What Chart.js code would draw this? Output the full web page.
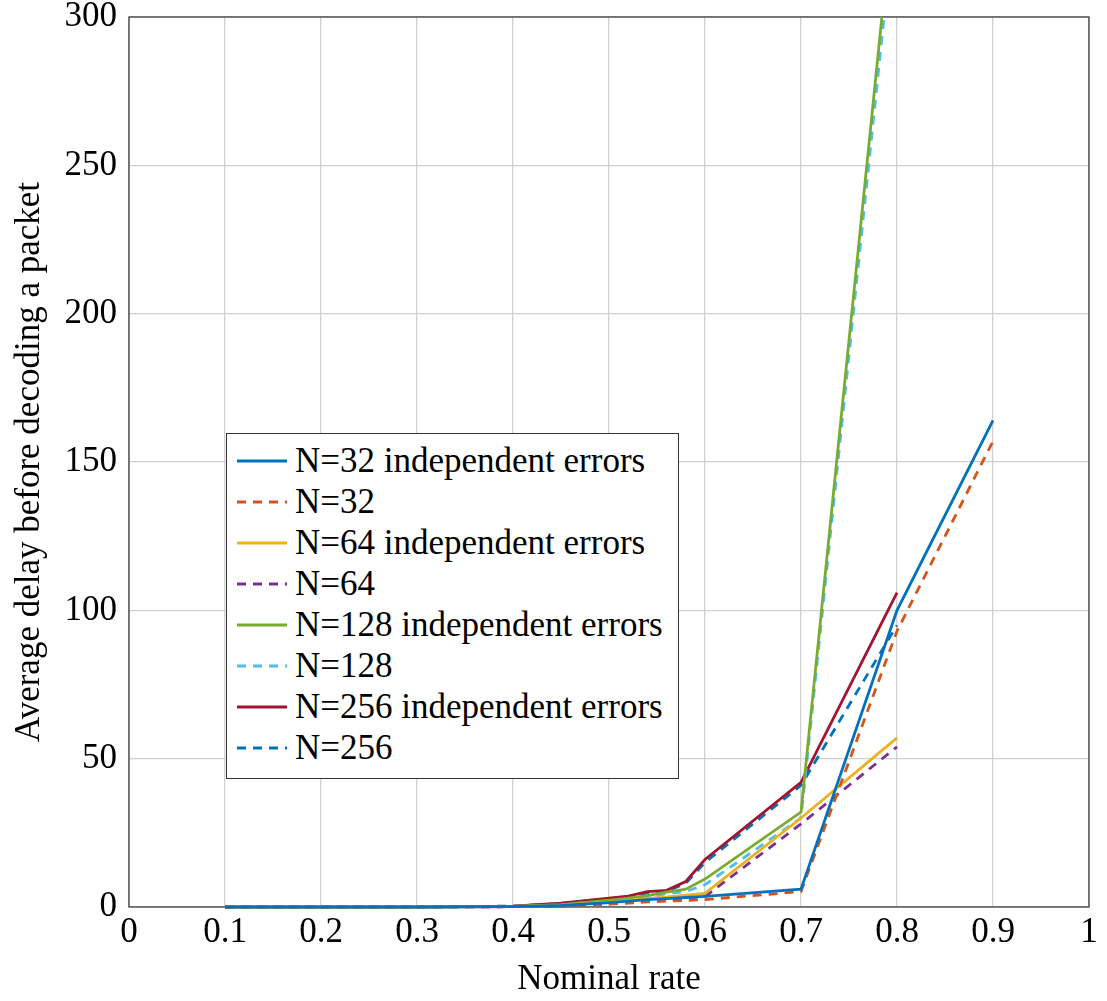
<!DOCTYPE html>
<html>
<head>
<meta charset="utf-8">
<script src="https://cdn.jsdelivr.net/npm/chart.js@4/dist/chart.umd.min.js"></script>
<style>
  body { margin: 0; background: #fff; }
  #wrap { position: relative; width: 1107px; height: 1001px; }
  #legenda {
    position: absolute; left: 226px; top: 433px; width: 451px; height: 338px;
    border: 1px solid #333; background: #fff; box-sizing: content-box;
    font-family: 'Liberation Serif', 'DejaVu Serif', serif; font-size: 35px; color: #000;
    padding-top: 6px;
  }
  #legenda .item { height: 41px; display: flex; align-items: center; white-space: nowrap; }
  #legenda svg { margin-left: 10px; margin-right: 8px; flex: none; }
</style>
</head>
<body>
<div id="wrap">
  <canvas id="grafico" width="1107" height="1001"></canvas>
  <div id="legenda"></div>
</div>
<script>
// Taxa nominal (eixo x)
const taxas = [0.1, 0.2, 0.3, 0.4, 0.45, 0.5, 0.52, 0.54, 0.56, 0.58, 0.6, 0.7, 0.8, 0.9];

// Atraso médio por série
const n32Indep  = [0, 0, 0, 0.1, 0.5, 1.5, 2.0, 2.5, 2.8, 3.2, 3.6, 6.0, 100, 164];
const n32       = [0, 0, 0, 0.1, 0.3, 1.0, 1.3, 1.7, 2.0, 2.2, 2.5, 5.2, 93, 157];
const n64Indep  = [0, 0, 0, 0.1, 0.6, 1.6, 2.2, 2.9, 3.3, 4.0, 4.6, 30, 57];
const n64       = [0, 0, 0, 0.1, 0.4, 1.1, 1.5, 2.0, 2.5, 3.0, 3.5, 28, 54];
const n128Indep = [0, 0, 0, 0.2, 0.8, 2.3, 3.0, 3.8, 5.0, 6.0, 9.4, 32, 350];
const n128      = [0, 0, 0, 0.2, 0.7, 2.0, 2.6, 3.3, 4.5, 5.2, 7.5, 30, 342];
const n256Indep = [0, 0, 0, 0.3, 1.3, 3.0, 3.7, 5.2, 5.6, 8.6, 16, 42, 106];
const n256      = [0, 0, 0, 0.3, 1.2, 2.8, 3.4, 4.8, 5.3, 8.0, 15, 41, 95];

const nomes = ['N=32 independent errors', 'N=32', 'N=64 independent errors', 'N=64',
               'N=128 independent errors', 'N=128', 'N=256 independent errors', 'N=256'];

// Marcas dos eixos
const ticksX = [0, 0.1, 0.2, 0.3, 0.4, 0.5, 0.6, 0.7, 0.8, 0.9, 1];
const ticksY = [0, 50, 100, 150, 200, 250, 300];

const series = [n32Indep, n32, n64Indep, n64, n128Indep, n128, n256Indep, n256];
const cores = ['#0072BD', '#D95319', '#EDB120', '#7E2F8E', '#77AC30', '#4DBEEE', '#A2142F', '#0072BD'];
const tracejado = [9, 7];
const fonte = "'Liberation Serif', 'DejaVu Serif', serif";

const datasets = series.map((valores, i) => ({
  label: nomes[i],
  data: valores.map((v, j) => ({ x: taxas[j], y: v })),
  borderColor: cores[i],
  backgroundColor: cores[i],
  borderWidth: 2.8,
  borderDash: i % 2 === 1 ? tracejado : [],
  pointRadius: 0,
  tension: 0,
  fill: false,
  clip: { left: 5, right: 5, top: 0, bottom: 5 }
}));

// Moldura em volta da área do gráfico
const moldura = {
  id: 'moldura',
  beforeDatasetsDraw(chart) {
    const { ctx, chartArea: a } = chart;
    ctx.save();
    ctx.strokeStyle = '#404040';
    ctx.lineWidth = 1.3;
    ctx.strokeRect(a.left, a.top, a.right - a.left, a.bottom - a.top);
    ctx.restore();
  }
};

const grafico = new Chart(document.getElementById('grafico'), {
  type: 'line',
  data: { datasets },
  plugins: [moldura],
  options: {
    responsive: false,
    animation: false,
    layout: { padding: { top: 17, right: 18, left: 0, bottom: 0 } },
    plugins: { legend: { display: false }, tooltip: { enabled: false } },
    scales: {
      x: {
        type: 'linear', min: 0, max: 1,
        afterBuildTicks: s => { s.ticks = ticksX.map(v => ({ value: v })); },
        afterFit: s => { s.height = 94; s.paddingLeft = 0; s.paddingRight = 0; },
        ticks: { color: '#000', font: { family: fonte, size: 35, lineHeight: 1 }, padding: 8, maxRotation: 0,
                 callback: v => String(+v.toFixed(1)) },
        grid: { color: '#d0d0d0', lineWidth: 1.3, tickLength: 0 },
        border: { display: false },
        title: { display: true, text: 'Nominal rate', color: '#000',
                 font: { family: fonte, size: 35, lineHeight: 1.2 }, padding: { top: 0, bottom: 0 } }
      },
      y: {
        min: 0, max: 300,
        afterBuildTicks: s => { s.ticks = ticksY.map(v => ({ value: v })); },
        afterFit: s => { s.width = 129; s.paddingTop = 0; s.paddingBottom = 0; },
        ticks: { color: '#000', font: { family: fonte, size: 35, lineHeight: 1 }, padding: 12 },
        grid: { color: '#d0d0d0', lineWidth: 1.3, tickLength: 0 },
        border: { display: false },
        title: { display: true, text: 'Average delay before decoding a packet', color: '#000',
                 font: { family: fonte, size: 35, lineHeight: 1.2 }, padding: { top: 9, bottom: 0 } }
      }
    }
  }
});

// Legenda em HTML dentro da área do gráfico
const legenda = document.getElementById('legenda');
grafico.data.datasets.forEach(ds => {
  const item = document.createElement('div');
  item.className = 'item';
  const dash = ds.borderDash.length ? `stroke-dasharray="${ds.borderDash.join(' ')}"` : '';
  item.innerHTML = `<svg width="50" height="6"><line x1="0" y1="3" x2="50" y2="3" stroke="${ds.borderColor}" stroke-width="2.8" ${dash}/></svg><span>${ds.label}</span>`;
  legenda.appendChild(item);
});
</script>
</body>
</html>
